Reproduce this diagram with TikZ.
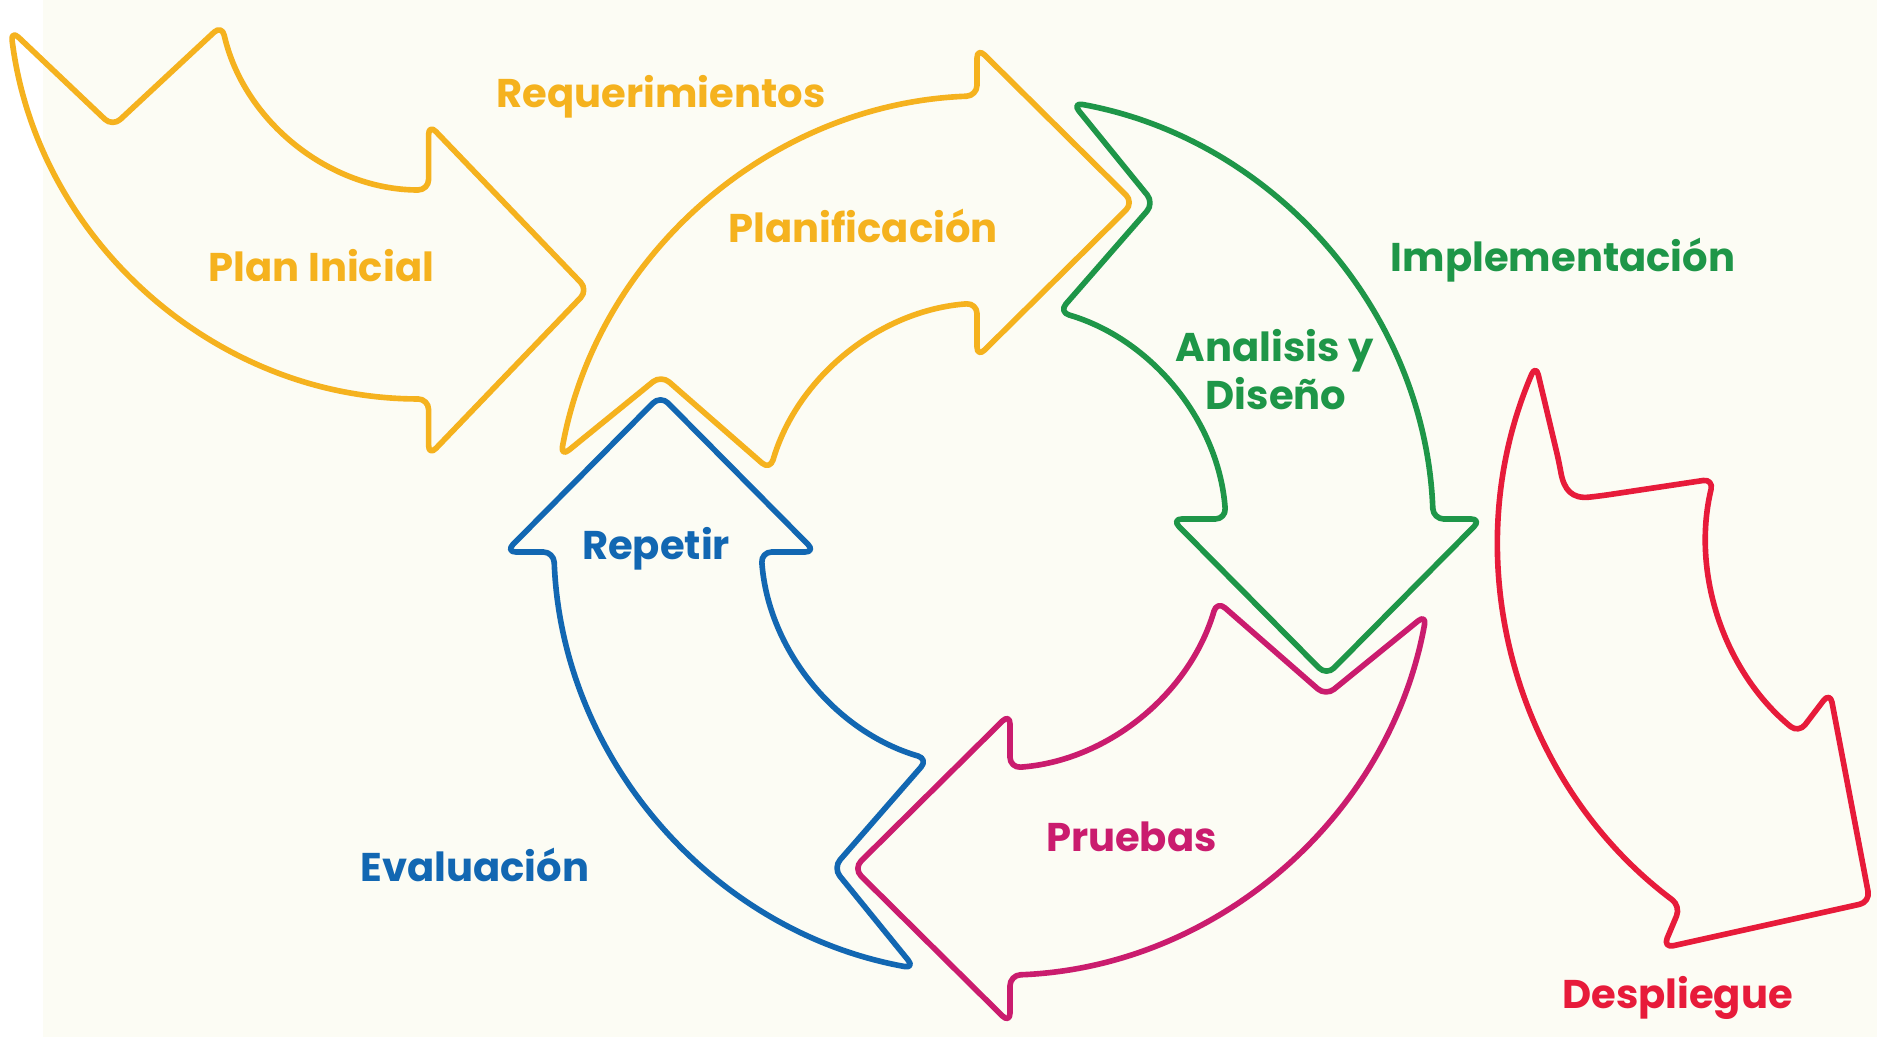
\documentclass[tikz,border=0pt]{standalone}
\usepackage{fontspec}
\setmainfont{Poppins}
\usepackage{tikz}

\definecolor{planyellow}{RGB}{245,178,30}
\definecolor{designgreen}{RGB}{30,150,72}
\definecolor{repeatblue}{RGB}{18,103,178}
\definecolor{testpink}{RGB}{202,28,110}
\definecolor{deployred}{RGB}{231,27,58}
\definecolor{paper}{RGB}{252,252,244}

\begin{document}
\begin{tikzpicture}[x=0.01cm, y=-0.01cm,
    outline/.style={line width=1.6pt, line join=round, rounded corners=3pt},
    lbl/.style={font=\bfseries\fontsize{11.4}{13.7}\selectfont, anchor=base, inner sep=0pt},
    cyclearrow/.pic={
      \draw[outline] (190.3:440) arc[start angle=190.3, end angle=267.85, radius=440]
        -- (-16.5,-488) -- (140,-333) -- (-16.5,-178) -- (-16.5,-232.4)
        arc[start angle=265.9, end angle=196.3, radius=233]
        -- (-332.3,-160.4) -- cycle;
    }]

% paper
\fill[white] (0,0) rectangle (1877,1037);
\fill[paper] (43,0) rectangle (1877,1037);
\useasboundingbox (0,0) rectangle (1877,1037);

% Cycle of four curved arrows
\coordinate (hub) at (993.5,535.5);
\pic[planyellow] at (hub) {cyclearrow};
\pic[designgreen, rotate=-90] at (hub) {cyclearrow};
\pic[testpink, rotate=-180] at (hub) {cyclearrow};
\pic[repeatblue, rotate=90] at (hub) {cyclearrow};

% Entry arrow
\draw[outline, planyellow] (10.8,30) arc[start angle=172.9, end angle=90, radius=421]
  -- (428.6,456) -- (588,290) -- (428.6,124) -- (428.6,190)
  arc[start angle=90, end angle=167.2, radius=212]
  -- (112.6,126.6) -- cycle;

% Exit arrow
\draw[outline, deployred] (1535.8,364.6) arc[start angle=203.25, end angle=126.8, radius=453]
  -- (1663,948) -- (1870,902) -- (1830,692) -- (1798.6,733.2)
  arc[start angle=129.5, end angle=193.5, radius=253]
  -- (1600,496) .. controls (1572,499) and (1564,490) .. (1559,462) -- cycle;

% Labels
\node[lbl, planyellow] (req) at (661,108) {Requerimientos};
\node[lbl, planyellow] (plan) at (321.4,282) {Plan Inicial};
\node[lbl, planyellow] (planif) at (863,243) {Planificación};
\node[lbl, designgreen] (impl) at (1563,271.7) {Implementación};
\node[lbl, designgreen] (analisis) at (1274.7,361.7) {Analisis y};
\node[lbl, designgreen] (diseno) at (1276,410) {Diseño};
\node[lbl, repeatblue] (repetir) at (656,559.9) {Repetir};
\node[lbl, repeatblue] (eval) at (475,881) {Evaluación};
\node[lbl, testpink] (pruebas) at (1131.4,851) {Pruebas};
\node[lbl, deployred] (despliegue) at (1677.5,1008) {Despliegue};
\end{tikzpicture}
\end{document}
